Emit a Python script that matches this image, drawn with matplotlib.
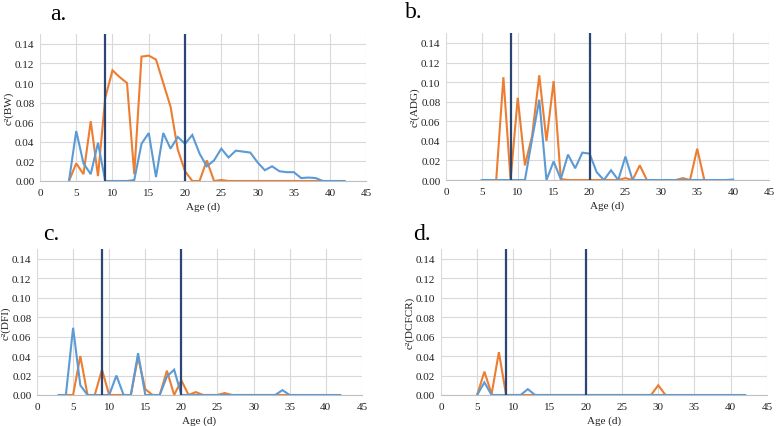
import matplotlib
matplotlib.use("Agg")
import matplotlib.pyplot as plt
import numpy as np

plt.rcParams['font.family'] = ['Liberation Serif', 'DejaVu Serif']

# Panel a: BW
a_blue_x = list(range(4, 43))
a_blue_y = [0, 0.051, 0.018, 0.007, 0.039, 0, 0, 0, 0, 0.001, 0.038, 0.049, 0.004,
            0.049, 0.033, 0.045, 0.038, 0.047, 0.028, 0.015, 0.021, 0.033, 0.024,
            0.031, 0.030, 0.029, 0.019, 0.011, 0.015, 0.010, 0.009, 0.009, 0.003,
            0.0035, 0.003, 0, 0, 0, 0]
a_orange_x = list(range(4, 40))
a_orange_y = [0, 0.018, 0.007, 0.061, 0.005, 0.085, 0.113, 0.106, 0.100, 0.007,
              0.127, 0.128, 0.124, 0.100, 0.076, 0.032, 0.010, 0, 0, 0.021, 0,
              0.001, 0, 0, 0, 0, 0, 0, 0, 0, 0, 0, 0, 0, 0, 0]

# Panel b: ADG
b_blue_x = list(range(5, 41))
b_blue_y = [0, 0, 0, 0, 0, 0, 0, 0.042, 0.082, 0, 0.019, 0.001, 0.026, 0.012,
            0.028, 0.027, 0.008, 0, 0.010, 0, 0.024, 0, 0, 0, 0, 0, 0, 0, 0, 0,
            0, 0, 0, 0, 0, 0.0005]
b_orange_x = list(range(5, 37))
b_orange_y = [0, 0, 0, 0.105, 0, 0.084, 0.015, 0.045, 0.107, 0.040, 0.101, 0.001,
              0, 0, 0, 0, 0, 0, 0, 0, 0.002, 0, 0.015, 0, 0, 0, 0, 0, 0.002, 0,
              0.032, 0]

# Panel c: DFI
c_blue_x = list(range(3, 43))
c_blue_y = [0, 0, 0.069, 0.010, 0, 0, 0, 0, 0.020, 0, 0, 0.043, 0, 0, 0, 0.019,
            0.026, 0, 0, 0, 0, 0, 0, 0, 0, 0, 0, 0, 0, 0, 0, 0.005, 0, 0, 0, 0,
            0, 0, 0, 0]
c_orange_x = list(range(4, 36))
c_orange_y = [0, 0, 0.040, 0, 0, 0.026, 0, 0, 0, 0, 0.039, 0.006, 0, 0, 0.025, 0,
              0.015, 0, 0.003, 0, 0, 0, 0.002, 0, 0, 0, 0, 0, 0, 0, 0, 0]

# Panel d: DCFCR
d_blue_x = list(range(5, 43))
d_blue_y = [0, 0.013, 0, 0, 0, 0, 0, 0.006] + [0] * 30
d_orange_x = list(range(5, 32))
d_orange_y = [0, 0.024, 0.001, 0.044, 0, 0, 0, 0, 0, 0, 0, 0, 0, 0, 0, 0, 0, 0,
              0, 0, 0, 0, 0, 0, 0, 0.010, 0]

panels = [
    ("a.", "c²(BW)", a_blue_x, a_blue_y, a_orange_x, a_orange_y),
    ("b.", "c²(ADG)", b_blue_x, b_blue_y, b_orange_x, b_orange_y),
    ("c.", "c²(DFI)", c_blue_x, c_blue_y, c_orange_x, c_orange_y),
    ("d.", "c²(DCFCR)", d_blue_x, d_blue_y, d_orange_x, d_orange_y),
]
vlines = [9, 20]
xticks = list(range(0, 46, 5))
yticks = [0, 0.02, 0.04, 0.06, 0.08, 0.10, 0.12, 0.14]

positions = [
    [0.0513, 0.5738, 0.419, 0.344],
    [0.5725, 0.576, 0.4146, 0.344],
    [0.0475, 0.0726, 0.417, 0.342],
    [0.566, 0.0726, 0.4185, 0.342],
]
letter_pos = [(0.064, 0.965), (0.520, 0.970), (0.056, 0.450), (0.530, 0.450)]

BLUE = '#5B9BD5'
ORANGE = '#ED7D31'
NAVY = '#2B4675'

fig = plt.figure(figsize=(7.79, 4.27), dpi=100)
for (letter, ylab, bx, by, ox, oy), pos, lp in zip(panels, positions, letter_pos):
    ax = fig.add_axes(pos)
    ax.plot(ox, oy, color=ORANGE, lw=1.5, zorder=3, solid_joinstyle='miter')
    ax.plot(bx, by, color=BLUE, lw=1.5, zorder=4, solid_joinstyle='miter')
    for v in vlines:
        ax.axvline(v, color=NAVY, lw=1.6, zorder=5)
    ax.set_xlim(0, 45)
    ax.set_ylim(0, 0.15)
    ax.set_xticks(xticks)
    ax.set_yticks(yticks)
    ax.set_yticklabels([f"{t:.2f}" for t in yticks])
    ax.grid(True, color='#D9D9D9', lw=0.8, zorder=0)
    ax.set_axisbelow(True)
    for s in ['top', 'right', 'left']:
        ax.spines[s].set_visible(False)
    ax.spines['bottom'].set_color('#BFBFBF')
    ax.spines['bottom'].set_linewidth(0.8)
    ax.tick_params(length=0, labelsize=8, colors='#222222')
    ax.tick_params(axis='x', pad=5)
    ax.tick_params(axis='y', pad=4)
    ax.set_xlabel("Age (d)", fontsize=8, labelpad=3, color='#222222')
    ax.set_ylabel(ylab, fontsize=8, labelpad=1, color='#222222')
    fig.text(lp[0], lp[1], letter, fontsize=17, ha='left', va='center')

fig.savefig("out.png", dpi=100)
